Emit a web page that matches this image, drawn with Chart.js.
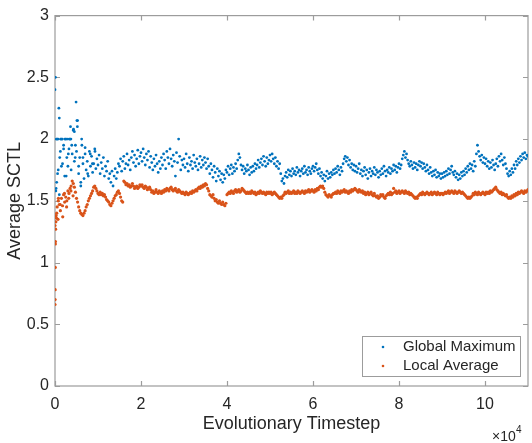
<!DOCTYPE html>
<html>
<head>
<meta charset="utf-8">
<script src="https://cdn.jsdelivr.net/npm/chart.js@4.4.1/dist/chart.umd.min.js"></script>
<style>
  html, body { margin: 0; padding: 0; background: #fff; }
  #wrap { width: 532px; height: 443px; }
</style>
</head>
<body>
<div id="wrap"><canvas id="c" width="532" height="443"></canvas></div>
<script>
// ---------- DATA ----------
const seriesNames = ["Global Maximum", "Local Average"];
const xTickValues = [0, 20000, 40000, 60000, 80000, 100000];
const yTickValues = [0, 0.5, 1, 1.5, 2, 2.5, 3];

// Global Maximum sampled every 250 timesteps (0 .. 110000)
const globalMaxStep = 250;
const globalMaxValues = [
  2.40,1.60,2.00,1.75,1.55,1.90,2.00,1.80,1.95,1.70,2.00,1.85,1.78,1.92,2.00,1.75,1.88,2.07,1.82,1.95,
  1.90,2.15,1.72,1.85,1.65,1.95,1.80,1.68,1.88,1.75,1.82,1.70,1.90,1.78,1.86,1.73,1.80,1.92,1.76,1.84,
  1.79,1.87,1.72,1.81,1.76,1.85,1.70,1.78,1.74,1.82,1.68,1.72,1.65,1.74,1.62,1.70,1.76,1.68,1.73,1.80,
  1.78,1.84,1.74,1.82,1.86,1.76,1.80,1.88,1.79,1.83,1.75,1.85,1.90,1.81,1.87,1.78,1.84,1.91,1.80,1.86,
  1.89,1.82,1.92,1.85,1.79,1.88,1.83,1.90,1.77,1.86,1.81,1.75,1.84,1.78,1.87,1.80,1.73,1.82,1.76,1.85,
  1.79,1.88,1.83,1.76,1.90,1.85,1.80,1.92,1.84,1.78,1.87,1.82,1.70,1.89,1.81,2.00,1.86,1.75,1.83,1.79,
  1.84,1.77,1.88,1.80,1.74,1.85,1.79,1.82,1.76,1.87,1.81,1.78,1.84,1.75,1.80,1.86,1.77,1.83,1.79,1.85,
  1.81,1.76,1.84,1.78,1.72,1.80,1.75,1.69,1.78,1.73,1.66,1.76,1.70,1.74,1.67,1.72,1.65,1.71,1.68,1.75,
  1.73,1.78,1.71,1.76,1.79,1.72,1.77,1.74,1.80,1.76,1.83,1.88,1.85,1.79,1.75,1.78,1.72,1.76,1.74,1.79,
  1.75,1.71,1.77,1.73,1.78,1.74,1.80,1.76,1.79,1.83,1.77,1.81,1.84,1.79,1.86,1.82,1.78,1.85,1.80,1.83,
  1.87,1.82,1.88,1.84,1.80,1.85,1.78,1.82,1.76,1.80,1.72,1.66,1.68,1.64,1.70,1.73,1.69,1.75,1.71,1.74,
  1.70,1.76,1.72,1.74,1.71,1.77,1.73,1.75,1.70,1.74,1.76,1.72,1.78,1.73,1.75,1.71,1.77,1.74,1.72,1.76,
  1.78,1.74,1.77,1.80,1.75,1.72,1.76,1.70,1.73,1.68,1.71,1.66,1.70,1.74,1.68,1.72,1.69,1.73,1.71,1.75,
  1.72,1.76,1.73,1.78,1.75,1.71,1.77,1.74,1.80,1.84,1.86,1.82,1.85,1.79,1.83,1.77,1.80,1.75,1.79,1.74,
  1.78,1.73,1.76,1.80,1.72,1.75,1.70,1.74,1.77,1.71,1.75,1.68,1.73,1.76,1.70,1.74,1.72,1.77,1.71,1.75,
  1.73,1.69,1.74,1.71,1.76,1.72,1.78,1.74,1.70,1.75,1.73,1.77,1.72,1.76,1.74,1.79,1.75,1.78,1.73,1.77,
  1.80,1.76,1.79,1.84,1.87,1.90,1.85,1.88,1.83,1.80,1.78,1.82,1.79,1.76,1.81,1.77,1.80,1.75,1.79,1.82,
  1.78,1.81,1.76,1.80,1.77,1.74,1.79,1.75,1.72,1.77,1.73,1.70,1.74,1.71,1.75,1.69,1.73,1.70,1.72,1.68,
  1.72,1.69,1.73,1.70,1.74,1.71,1.76,1.72,1.75,1.78,1.73,1.71,1.74,1.69,1.72,1.67,1.71,1.68,1.73,1.70,
  1.74,1.71,1.76,1.73,1.78,1.75,1.80,1.76,1.79,1.74,1.82,1.78,1.88,1.95,1.90,1.86,1.83,1.87,1.81,1.85,
  1.80,1.84,1.78,1.82,1.76,1.81,1.77,1.83,1.79,1.75,1.80,1.84,1.78,1.86,1.82,1.88,1.83,1.79,1.85,1.80,
  1.76,1.72,1.70,1.74,1.71,1.76,1.73,1.79,1.76,1.82,1.79,1.84,1.81,1.86,1.83,1.88,1.85,1.89,1.84,1.87,
  1.86
];
// extra early Global Maximum points
const earlyGlobalSteps  = [100, 300, 700, 900, 1000, 1300, 1700, 2300, 2800, 3300, 3700, 3600, 4300, 4500, 4900, 5100, 5200, 6200, 200, 400, 600, 1100, 1500, 2000, 2600, 3100, 3900, 4700, 5500, 6000, 6500, 7000, 7600, 8200, 8700, 9300];
const earlyGlobalValues = [2.50, 2.00, 2.00, 2.25, 2.17, 2.00, 2.00, 2.00, 2.00, 2.00, 2.00, 2.10, 2.08, 2.06, 2.30, 2.15, 2.10, 2.00, 1.58, 1.65, 1.72, 1.85, 1.78, 1.92, 1.70, 1.88, 1.95, 1.85, 1.78, 1.62, 1.85, 1.93, 1.72, 1.88, 1.80, 1.90];

// Local Average sampled every 250 timesteps (0 .. 110000)
const localAvgStep = 250;
const localAvgValues = [
  1.30,1.38,1.45,1.50,1.47,1.42,1.52,1.46,1.55,1.49,1.53,1.50,1.58,1.56,1.60,1.62,1.66,1.64,1.61,1.57,
  1.52,1.49,1.45,1.42,1.40,1.39,1.38,1.40,1.42,1.45,1.47,1.50,1.52,1.54,1.56,1.58,1.61,1.62,1.60,1.58,
  1.56,1.55,1.57,1.55,1.56,1.54,1.55,1.53,1.51,1.50,1.49,1.47,1.46,1.48,1.50,1.52,1.54,1.55,1.57,1.58,
  1.56,1.53,1.50,1.49,1.66,1.65,1.63,1.64,1.62,1.63,1.61,1.62,1.64,1.62,1.60,1.61,1.62,1.60,1.61,1.63,
  1.62,1.63,1.61,1.60,1.62,1.61,1.59,1.60,1.61,1.59,1.57,1.58,1.56,1.57,1.59,1.57,1.56,1.58,1.57,1.56,
  1.58,1.57,1.59,1.58,1.60,1.59,1.58,1.60,1.61,1.59,1.58,1.59,1.60,1.58,1.57,1.59,1.58,1.57,1.56,1.57,
  1.56,1.55,1.57,1.56,1.55,1.56,1.57,1.56,1.58,1.57,1.58,1.59,1.58,1.60,1.61,1.60,1.62,1.61,1.63,1.62,
  1.64,1.63,1.60,1.58,1.55,1.54,1.53,1.55,1.52,1.50,1.51,1.49,1.48,1.50,1.48,1.47,1.49,1.47,1.46,1.48,
  1.55,1.56,1.57,1.56,1.58,1.57,1.56,1.58,1.59,1.57,1.58,1.59,1.57,1.58,1.60,1.59,1.58,1.57,1.56,1.57,
  1.56,1.57,1.56,1.58,1.57,1.56,1.57,1.55,1.56,1.57,1.56,1.58,1.57,1.56,1.57,1.56,1.55,1.57,1.56,1.57,
  1.56,1.57,1.55,1.56,1.57,1.56,1.55,1.54,1.53,1.52,1.53,1.52,1.54,1.55,1.57,1.56,1.57,1.58,1.56,1.57,
  1.56,1.57,1.58,1.56,1.57,1.56,1.58,1.57,1.56,1.57,1.58,1.57,1.56,1.58,1.57,1.58,1.59,1.57,1.58,1.59,
  1.58,1.57,1.59,1.58,1.60,1.59,1.61,1.62,1.61,1.62,1.60,1.57,1.55,1.54,1.53,1.55,1.54,1.53,1.55,1.56,
  1.56,1.57,1.56,1.58,1.57,1.56,1.58,1.57,1.58,1.59,1.57,1.58,1.57,1.56,1.58,1.57,1.59,1.58,1.59,1.60,
  1.59,1.58,1.57,1.59,1.58,1.57,1.58,1.56,1.57,1.55,1.56,1.57,1.55,1.56,1.57,1.55,1.54,1.56,1.54,1.53,
  1.54,1.52,1.53,1.55,1.54,1.55,1.53,1.52,1.54,1.55,1.56,1.55,1.57,1.55,1.56,1.60,1.57,1.58,1.56,1.57,
  1.58,1.56,1.57,1.58,1.57,1.56,1.58,1.57,1.56,1.57,1.55,1.56,1.55,1.54,1.53,1.52,1.53,1.52,1.54,1.55,
  1.56,1.55,1.57,1.56,1.55,1.56,1.57,1.56,1.55,1.56,1.57,1.55,1.56,1.57,1.56,1.55,1.57,1.56,1.55,1.56,
  1.56,1.55,1.56,1.57,1.56,1.57,1.58,1.56,1.57,1.58,1.57,1.56,1.58,1.57,1.56,1.57,1.58,1.57,1.56,1.57,
  1.56,1.55,1.54,1.53,1.52,1.53,1.52,1.53,1.54,1.56,1.55,1.57,1.56,1.55,1.57,1.56,1.55,1.56,1.57,1.56,
  1.55,1.57,1.56,1.57,1.56,1.58,1.57,1.58,1.59,1.60,1.61,1.59,1.58,1.57,1.56,1.57,1.55,1.56,1.55,1.54,
  1.55,1.53,1.52,1.53,1.52,1.54,1.53,1.55,1.54,1.56,1.55,1.57,1.56,1.57,1.58,1.57,1.56,1.58,1.57,1.58,
  1.59
];
// extra early Local Average points
const earlyLocalSteps  = [0, 20, 40, 60, 80, 100, 150, 200, 350, 400, 700, 800, 1200, 1800, 2200, 2700, 3200, 3700, 4200];
const earlyLocalValues = [0.66, 0.70, 0.78, 0.96, 1.15, 1.17, 1.27, 1.33, 1.36, 1.40, 1.35, 1.52, 1.47, 1.37, 1.56, 1.45, 1.52, 1.58, 1.54];

// ---------- BUILD ----------
const COLORS = ["#0072BD", "#D95319"];
const FONT = "'Liberation Sans', Arial, Helvetica, sans-serif";
const INK = "#262626";
const FRAME = "#9c9c9c";

function pts(values, step, extraX, extraY) {
  const out = values.map((v, i) => ({ x: i * step, y: v }));
  extraX.forEach((x, i) => out.push({ x: x, y: extraY[i] }));
  return out;
}

const framePlugin = {
  id: "frame",
  beforeDatasetsDraw(chart) {
    const { ctx, chartArea: a, scales: { x, y } } = chart;
    ctx.save();
    ctx.strokeStyle = FRAME;
    ctx.lineWidth = 1.2;
    ctx.strokeRect(a.left, a.top, a.right - a.left, a.bottom - a.top);
    ctx.beginPath();
    const L = 5;
    xTickValues.forEach(v => {
      const px = Math.round(x.getPixelForValue(v)) + 0.5;
      ctx.moveTo(px, a.bottom); ctx.lineTo(px, a.bottom - L);
      ctx.moveTo(px, a.top); ctx.lineTo(px, a.top + L);
    });
    yTickValues.forEach(v => {
      const py = Math.round(y.getPixelForValue(v)) + 0.5;
      ctx.moveTo(a.left, py); ctx.lineTo(a.left + L, py);
      ctx.moveTo(a.right, py); ctx.lineTo(a.right - L, py);
    });
    ctx.stroke();
    ctx.restore();
  },
  afterDraw(chart) {
    const { ctx } = chart;
    ctx.save();
    // exponent label
    ctx.fillStyle = INK;
    ctx.textBaseline = "alphabetic";
    ctx.textAlign = "left";
    ctx.font = "14px " + FONT;
    ctx.fillText("\u00d710", 492, 441);
    ctx.font = "10px " + FONT;
    ctx.fillText("4", 516, 433);
    // legend
    const bx = 362, by = 336, bw = 158, bh = 40;
    ctx.fillStyle = "#fff";
    ctx.fillRect(bx, by, bw, bh);
    ctx.strokeStyle = FRAME;
    ctx.lineWidth = 1;
    ctx.strokeRect(bx + 0.5, by + 0.5, bw, bh);
    ctx.font = "15px " + FONT;
    ctx.textBaseline = "middle";
    seriesNames.forEach((name, i) => {
      const cy = by + 11 + i * 19;
      ctx.fillStyle = COLORS[i];
      ctx.beginPath();
      ctx.arc(383, cy, 1.3, 0, Math.PI * 2);
      ctx.fill();
      ctx.fillStyle = INK;
      ctx.fillText(name, 403, cy);
    });
    ctx.restore();
  }
};

new Chart(document.getElementById("c"), {
  type: "scatter",
  data: {
    datasets: [
      {
        label: seriesNames[0],
        data: pts(globalMaxValues, globalMaxStep, earlyGlobalSteps, earlyGlobalValues),
        backgroundColor: COLORS[0],
        borderColor: COLORS[0],
        borderWidth: 0,
        pointRadius: 1.4,
        order: 2
      },
      {
        label: seriesNames[1],
        data: pts(localAvgValues, localAvgStep, earlyLocalSteps, earlyLocalValues),
        backgroundColor: COLORS[1],
        borderColor: COLORS[1],
        borderWidth: 0,
        pointRadius: 1.6,
        order: 1
      }
    ]
  },
  options: {
    responsive: false,
    animation: false,
    devicePixelRatio: 1,
    layout: { padding: { top: 12, right: 1, left: 0, bottom: 0 } },
    plugins: { legend: { display: false }, tooltip: { enabled: false } },
    scales: {
      x: {
        type: "linear",
        min: 0,
        max: 110000,
        afterBuildTicks: s => { s.ticks = xTickValues.map(v => ({ value: v })); },
        afterFit: s => { s.height = 57; },
        grid: { display: false, drawTicks: false },
        border: { display: false },
        ticks: {
          color: INK,
          font: { family: FONT, size: 16 },
          padding: 9,
          maxRotation: 0,
          callback: v => String(v / 10000)
        },
        title: {
          display: true,
          text: "Evolutionary Timestep",
          color: INK,
          font: { family: FONT, size: 18 },
          padding: { top: 0, bottom: 8 }
        }
      },
      y: {
        type: "linear",
        min: 0,
        max: 3,
        afterBuildTicks: s => { s.ticks = yTickValues.map(v => ({ value: v })); },
        afterFit: s => { s.width = 55; },
        grid: { display: false, drawTicks: false },
        border: { display: false },
        ticks: {
          color: INK,
          font: { family: FONT, size: 16 },
          padding: 6,
          callback: v => String(v)
        },
        title: {
          display: true,
          text: "Average SCTL",
          color: INK,
          font: { family: FONT, size: 18 },
          padding: { top: 4, bottom: 0 }
        }
      }
    }
  },
  plugins: [framePlugin]
});
</script>
</body>
</html>
